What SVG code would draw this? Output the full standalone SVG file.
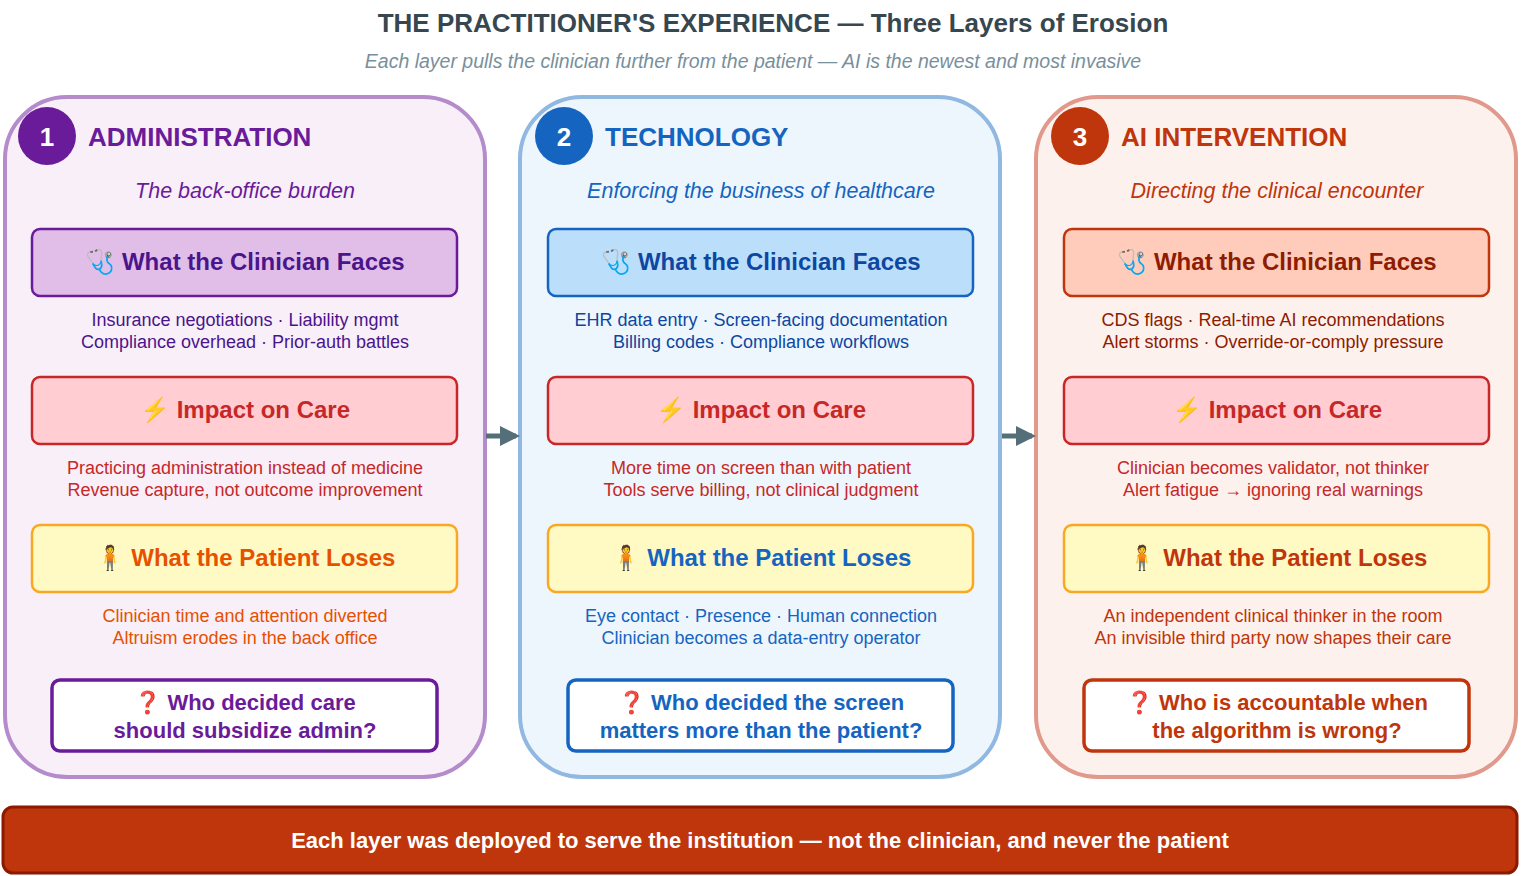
<svg xmlns="http://www.w3.org/2000/svg" width="1521" height="876" viewBox="0 0 1521 876">
<style>
text{font-family:"Liberation Sans",Arial,sans-serif;text-anchor:middle}
.b{font-weight:bold}
.h{font-size:24px;font-weight:bold}
.t{font-size:26px;font-weight:bold;text-anchor:start}
.s{font-size:21.5px;font-style:italic}
.l{font-size:18px}
.q{font-size:22px;font-weight:bold}
.imp{fill:#ffcdd2;stroke:#c62828;stroke-width:2.5}
.pat{fill:#fff9c4;stroke:#f9a825;stroke-width:2.5}
</style>
<defs><marker id="ar" viewBox="0 0 10 10" refX="8" refY="5" markerWidth="4" markerHeight="4" orient="auto"><path d="M0,0L10,5L0,10z" fill="#546e7a"/></marker></defs>
<rect width="1521" height="876" fill="#fff"/>
<text x="773" y="32" class="b" font-size="26" fill="#37474f">THE PRACTITIONER'S EXPERIENCE — Three Layers of Erosion</text>
<text x="753" y="68" font-size="19.5" font-style="italic" fill="#78909c">Each layer pulls the clinician further from the patient — AI is the newest and most invasive</text>

<g id="layer1">
<rect x="5" y="97" width="480" height="680" rx="62" fill="#f8eff8" stroke="#b48ccc" stroke-width="4"/>
<circle cx="47" cy="136" r="29" fill="#6a1b9a"/><text x="47" y="146" font-size="26" class="b" fill="#fff">1</text>
<text x="88" y="146" class="t" fill="#6a1b9a">ADMINISTRATION</text>
<text x="245" y="198" class="s" fill="#6a1b9a">The back-office burden</text>
<rect x="32" y="229" width="425" height="67" rx="8" fill="#e1bee7" stroke="#6a1b9a" stroke-width="2.5"/>
<text x="245" y="270" class="h" fill="#4a148c">🩺 What the Clinician Faces</text>
<text x="245" y="326" class="l" fill="#4a148c">Insurance negotiations · Liability mgmt</text>
<text x="245" y="348" class="l" fill="#4a148c">Compliance overhead · Prior-auth battles</text>
<rect x="32" y="377" width="425" height="67" rx="8" class="imp"/>
<text x="245" y="418" class="h" fill="#c62828">⚡ Impact on Care</text>
<text x="245" y="474" class="l" fill="#c62828">Practicing administration instead of medicine</text>
<text x="245" y="496" class="l" fill="#c62828">Revenue capture, not outcome improvement</text>
<rect x="32" y="525" width="425" height="67" rx="8" class="pat"/>
<text x="245" y="566" class="h" fill="#e65100">🧍 What the Patient Loses</text>
<text x="245" y="622" class="l" fill="#e65100">Clinician time and attention diverted</text>
<text x="245" y="644" class="l" fill="#e65100">Altruism erodes in the back office</text>
<rect x="52" y="680" width="385" height="71" rx="8" fill="#fff" stroke="#6a1b9a" stroke-width="3.5"/>
<text x="245" y="710" class="q" fill="#6a1b9a">❓ Who decided care</text>
<text x="245" y="738" class="q" fill="#6a1b9a">should subsidize admin?</text>
</g>

<g id="layer2">
<rect x="520" y="97" width="480" height="680" rx="62" fill="#eef6fd" stroke="#90b8e0" stroke-width="4"/>
<circle cx="564" cy="136" r="29" fill="#1565c0"/><text x="564" y="146" font-size="26" class="b" fill="#fff">2</text>
<text x="605" y="146" class="t" fill="#1565c0">TECHNOLOGY</text>
<text x="761" y="198" class="s" fill="#1565c0">Enforcing the business of healthcare</text>
<rect x="548" y="229" width="425" height="67" rx="8" fill="#bbdefb" stroke="#1565c0" stroke-width="2.5"/>
<text x="761" y="270" class="h" fill="#0d47a1">🩺 What the Clinician Faces</text>
<text x="761" y="326" class="l" fill="#0d47a1">EHR data entry · Screen-facing documentation</text>
<text x="761" y="348" class="l" fill="#0d47a1">Billing codes · Compliance workflows</text>
<rect x="548" y="377" width="425" height="67" rx="8" class="imp"/>
<text x="761" y="418" class="h" fill="#c62828">⚡ Impact on Care</text>
<text x="761" y="474" class="l" fill="#c62828">More time on screen than with patient</text>
<text x="761" y="496" class="l" fill="#c62828">Tools serve billing, not clinical judgment</text>
<rect x="548" y="525" width="425" height="67" rx="8" class="pat"/>
<text x="761" y="566" class="h" fill="#1565c0">🧍 What the Patient Loses</text>
<text x="761" y="622" class="l" fill="#1565c0">Eye contact · Presence · Human connection</text>
<text x="761" y="644" class="l" fill="#1565c0">Clinician becomes a data-entry operator</text>
<rect x="568" y="680" width="385" height="71" rx="8" fill="#fff" stroke="#1565c0" stroke-width="3.5"/>
<text x="761" y="710" class="q" fill="#1565c0">❓ Who decided the screen</text>
<text x="761" y="738" class="q" fill="#1565c0">matters more than the patient?</text>
</g>

<g id="layer3">
<rect x="1036" y="97" width="480" height="680" rx="62" fill="#fdf1ee" stroke="#e0998a" stroke-width="4"/>
<circle cx="1080" cy="136" r="29" fill="#bf360c"/><text x="1080" y="146" font-size="26" class="b" fill="#fff">3</text>
<text x="1121" y="146" class="t" fill="#bf360c">AI INTERVENTION</text>
<text x="1277" y="198" class="s" fill="#bf360c">Directing the clinical encounter</text>
<rect x="1064" y="229" width="425" height="67" rx="8" fill="#ffccbc" stroke="#bf360c" stroke-width="2.5"/>
<text x="1277" y="270" class="h" fill="#8d1c00">🩺 What the Clinician Faces</text>
<text x="1273" y="326" class="l" fill="#8d1c00">CDS flags · Real-time AI recommendations</text>
<text x="1273" y="348" class="l" fill="#8d1c00">Alert storms · Override-or-comply pressure</text>
<rect x="1064" y="377" width="425" height="67" rx="8" class="imp"/>
<text x="1277" y="418" class="h" fill="#c62828">⚡ Impact on Care</text>
<text x="1273" y="474" class="l" fill="#c62828">Clinician becomes validator, not thinker</text>
<text x="1273" y="496" class="l" fill="#c62828">Alert fatigue → ignoring real warnings</text>
<rect x="1064" y="525" width="425" height="67" rx="8" class="pat"/>
<text x="1277" y="566" class="h" fill="#bf360c">🧍 What the Patient Loses</text>
<text x="1273" y="622" class="l" fill="#bf360c">An independent clinical thinker in the room</text>
<text x="1273" y="644" class="l" fill="#bf360c">An invisible third party now shapes their care</text>
<rect x="1084" y="680" width="385" height="71" rx="8" fill="#fff" stroke="#bf360c" stroke-width="3.5"/>
<text x="1277" y="710" class="q" fill="#bf360c">❓ Who is accountable when</text>
<text x="1277" y="738" class="q" fill="#bf360c">the algorithm is wrong?</text>
</g>

<g id="connectors" stroke="#546e7a" stroke-width="5" fill="none">
<line x1="486" y1="436" x2="516" y2="436" marker-end="url(#ar)"/>
<line x1="1002" y1="436" x2="1032" y2="436" marker-end="url(#ar)"/>
</g>

<g id="banner">
<rect x="3" y="807" width="1514" height="66" rx="10" fill="#bf360c" stroke="#8b1a00" stroke-width="3"/>
<text x="760" y="848" font-size="22" class="b" fill="#fff">Each layer was deployed to serve the institution — not the clinician, and never the patient</text>
</g>
</svg>
